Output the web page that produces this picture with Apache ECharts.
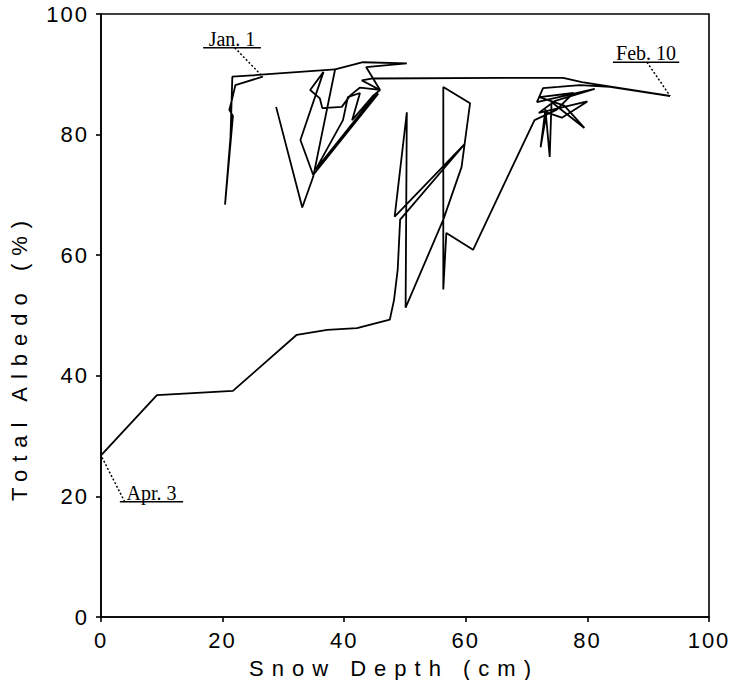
<!DOCTYPE html>
<html>
<head>
<meta charset="utf-8">
<script src="https://cdn.jsdelivr.net/npm/echarts@6/dist/echarts.min.js"></script>
<style>
html,body{margin:0;padding:0;background:#fff;}
#c{width:736px;height:680px;}
#c svg text[style*="Liberation Sans"]{letter-spacing:2px;}
#c svg text[style*="Arial"]{letter-spacing:8px;}
</style>
</head>
<body>
<div id="c"></div>
<script>
// ---- data (snow depth in cm, total albedo in %) ----
const xTickValues = [0, 20, 40, 60, 80, 100];
const yTickValues = [0, 20, 40, 60, 80, 100];
const xTitle = 'Snow Depth (cm)';
const yTitle = 'Total Albedo (%)';

// segment starting on Jan. 1
const seg1Depth  = [26.6, 22.1, 21.5, 21.1, 21.7, 20.4, 21.3, 21.6, 38.5];
const seg1Albedo = [89.6, 88.2, 85.6, 84.1, 83.1, 68.4, 79.6, 89.6, 90.8];

// main segment through Feb. 10 to Apr. 3
const seg2Depth = [28.8, 33.1, 34.9, 38.5, 43.1, 50.3, 43.6, 45.9, 42.6, 41.0,
  39.6, 36.4, 36.0, 34.4, 36.6, 32.8, 34.9, 45.6, 44.8, 35.3,
  39.8, 40.6, 42.6, 41.3, 44.8, 45.9, 42.9, 44.5, 66.0, 76.0,
  79.1, 93.6, 83.7, 78.8, 75.2, 72.7, 71.7, 81.2, 74.7, 72.0,
  80.0, 75.8, 73.3, 72.3, 73.1, 73.8, 74.1, 79.5, 76.2, 72.1,
  77.7, 74.9, 71.3, 65.6, 61.2, 56.8, 56.3, 56.3, 60.7, 59.3,
  56.3, 50.1, 50.3, 48.3, 59.8, 49.2, 48.8, 48.2, 47.5, 42.1,
  37.2, 32.2, 21.7, 9.2, 0];
const seg2Albedo = [84.6, 67.9, 73.0, 90.8, 92.0, 91.8, 91.2, 87.4, 87.8, 86.5,
  84.6, 84.4, 86.0, 87.4, 90.4, 79.1, 73.3, 86.8, 86.2, 74.2,
  82.4, 86.2, 86.9, 82.4, 86.5, 87.4, 89.0, 89.3, 89.4, 89.4,
  88.7, 86.4, 87.9, 88.2, 87.9, 87.7, 85.4, 87.6, 85.6, 83.6,
  85.5, 82.8, 83.7, 77.9, 84.2, 76.3, 85.4, 81.1, 84.8, 86.2,
  86.9, 84.1, 82.4, 70.3, 60.9, 63.7, 54.3, 87.9, 85.2, 74.6,
  65.9, 51.3, 83.7, 66.4, 78.4, 65.9, 57.6, 52.6, 49.3, 47.9,
  47.6, 46.8, 37.5, 36.8, 26.8];

// annotations (date labels)
const annoTexts = ['Jan. 1', 'Feb. 10', 'Apr. 3'];
const annoPoints = [[26.6, 89.6], [93.6, 86.4], [0, 26.8]];

// ---- layout (not data) ----
const annoLayout = [
  { uFrom: [16.8, 94.4], uTo: [26.3, 94.4], leadFrom: [22.0, 94.4] },
  { uFrom: [84.2, 92.0], uTo: [95.1, 92.0], leadFrom: [89.8, 92.0] },
  { uFrom: [3.1, 19.1],  uTo: [13.5, 19.1], leadFrom: [3.9, 19.1] }
];

const zip = (a, b) => a.map((v, i) => [v, b[i]]);
const lineSeries = (d) => ({
  type: 'line', data: d, showSymbol: false, symbol: 'none', smooth: false,
  lineStyle: { color: '#000', width: 1.8 }, animation: false, silent: true,
  clip: false
});

const axisCommon = {
  type: 'value',
  axisLine: { show: true, onZero: false, lineStyle: { color: '#000', width: 1.6 } },
  axisTick: { show: true, inside: false, length: 5, lineStyle: { color: '#000', width: 1.6 } },
  splitLine: { show: false },
  axisLabel: { color: '#000', fontSize: 22, fontFamily: 'Liberation Sans', margin: 12 }
};

const chart = echarts.init(document.getElementById('c'), null, { renderer: 'svg' });
const option = {
  animation: false,
  backgroundColor: '#fff',
  grid: { left: 101, right: 27, top: 14, bottom: 63, show: true, borderColor: '#000', borderWidth: 1.6, containLabel: false },
  xAxis: Object.assign({}, axisCommon, {
    min: xTickValues[0], max: xTickValues[xTickValues.length - 1],
    interval: xTickValues[1] - xTickValues[0]
  }),
  yAxis: Object.assign({}, axisCommon, {
    min: yTickValues[0], max: yTickValues[yTickValues.length - 1],
    interval: yTickValues[1] - yTickValues[0]
  }),
  series: [lineSeries(zip(seg1Depth, seg1Albedo)), lineSeries(zip(seg2Depth, seg2Albedo))]
};
chart.setOption(option);

const P = (v) => chart.convertToPixel({ gridIndex: 0 }, v);
const graphics = [];
annoTexts.forEach((t, i) => {
  const L = annoLayout[i];
  const a = P(L.uFrom), b = P(L.uTo), c = P(L.leadFrom), d = P(annoPoints[i]);
  graphics.push({ type: 'line', shape: { x1: a[0], y1: a[1], x2: b[0], y2: b[1] },
    style: { stroke: '#000', lineWidth: 1.5 }, silent: true });
  graphics.push({ type: 'line', shape: { x1: c[0], y1: c[1], x2: d[0], y2: d[1] },
    style: { stroke: '#000', lineWidth: 1.5, lineDash: [2, 2] }, silent: true });
  graphics.push({ type: 'text', x: (a[0] + b[0]) / 2, y: a[1] - 9,
    style: { text: t, fill: '#000', font: '20px "Liberation Serif"', textAlign: 'center', textVerticalAlign: 'middle' },
    silent: true });
});
graphics.push({ type: 'text', x: 394, y: 668,
  style: { text: xTitle, fill: '#000', fontSize: 22, fontFamily: 'Liberation Sans, Arial', textAlign: 'center', textVerticalAlign: 'middle' } });
graphics.push({ type: 'text', x: 19, y: 357, rotation: Math.PI / 2,
  style: { text: yTitle, fill: '#000', fontSize: 22, fontFamily: 'Liberation Sans, Arial', textAlign: 'center', textVerticalAlign: 'middle' } });
chart.setOption({ graphic: graphics });
</script>
</body>
</html>
